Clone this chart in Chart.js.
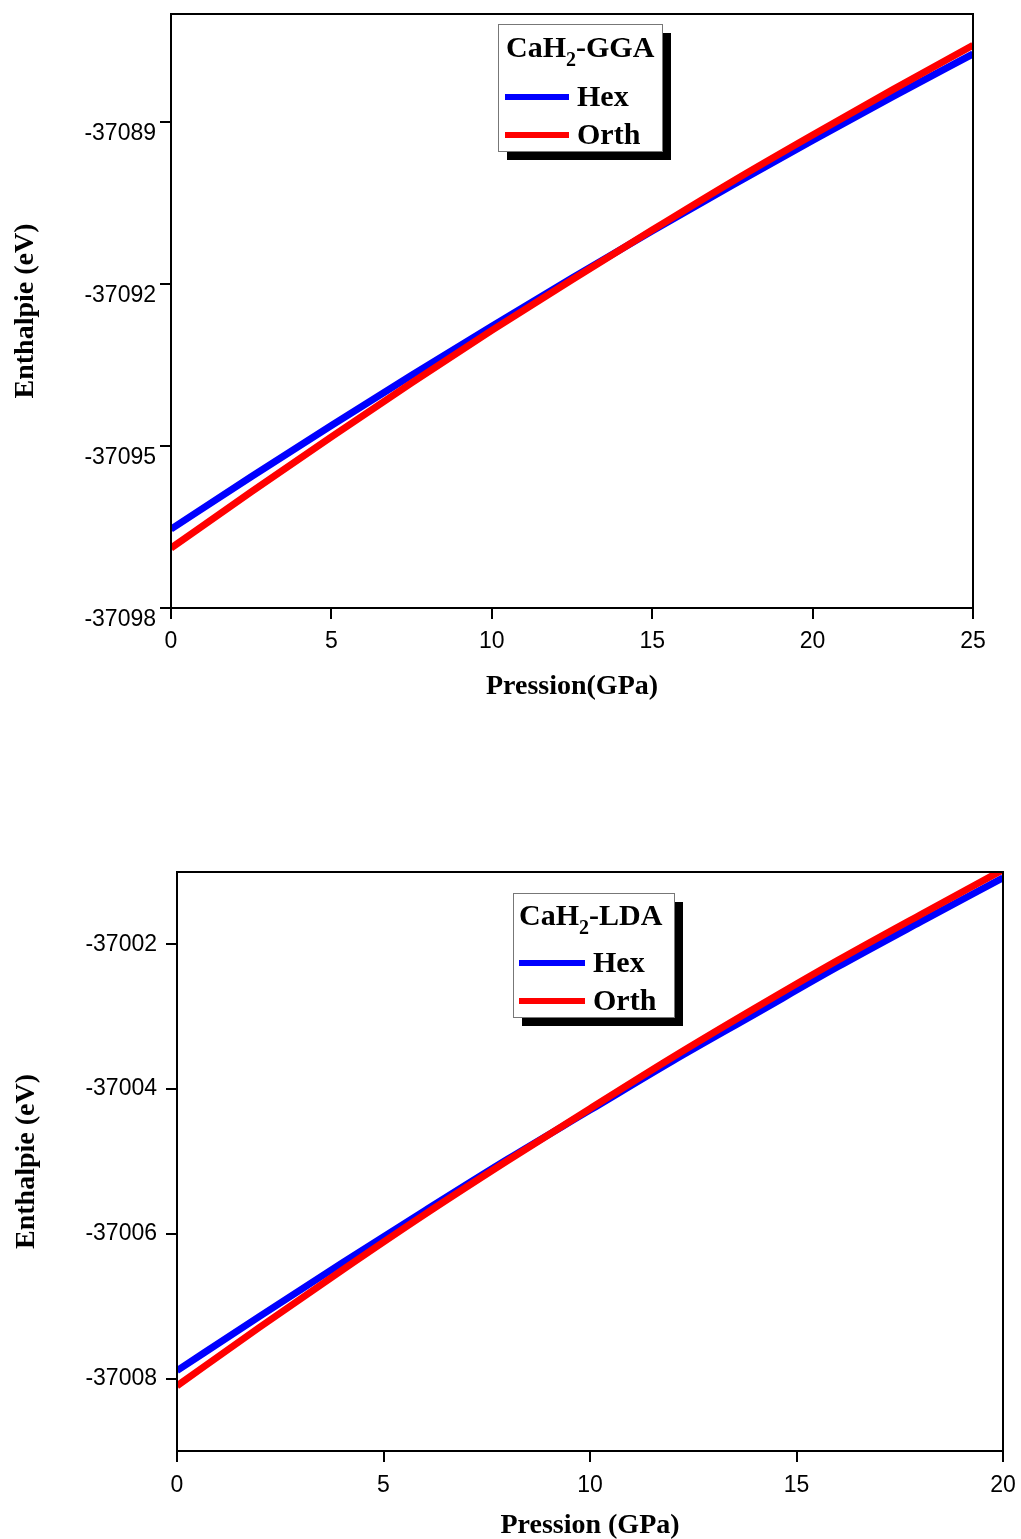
<!DOCTYPE html>
<html><head><meta charset="utf-8">
<script src="https://cdn.jsdelivr.net/npm/chart.js@4.4.1/dist/chart.umd.min.js"></script>
<style>
html,body{margin:0;padding:0;background:#fff;}
body{width:1021px;height:1539px;position:relative;overflow:hidden;}
.box{position:absolute;left:0;}
canvas{display:block;}
</style></head><body>
<div class="box" style="top:0;width:1021px;height:710px"><canvas id="c1" width="1021" height="710"></canvas></div>
<div class="box" style="top:850px;width:1021px;height:689px"><canvas id="c2" width="1021" height="689"></canvas></div>
<script>
// ---- data ----
const pressureGGA = [0, 2.5, 5, 7.5, 10, 12.5, 15, 17.5, 20, 22.5, 25];
const hexGGA  = [-37096.54, -37095.57, -37094.62, -37093.69, -37092.78, -37091.89, -37091.02, -37090.17, -37089.34, -37088.53, -37087.74];
const orthGGA = [-37096.89, -37095.85, -37094.83, -37093.83, -37092.86, -37091.92, -37091.00, -37090.10, -37089.24, -37088.40, -37087.58];

const pressureLDA = [0, 2, 4, 6, 8, 10, 12, 14, 16, 18, 20];
const hexLDA  = [-37007.89, -37007.14, -37006.40, -37005.68, -37004.97, -37004.29, -37003.61, -37002.96, -37002.31, -37001.69, -37001.08];
const orthLDA = [-37008.10, -37007.29, -37006.50, -37005.73, -37004.99, -37004.27, -37003.56, -37002.88, -37002.22, -37001.59, -37000.97];

const xTicksGGA = [0, 5, 10, 15, 20, 25];
const yTicksGGA = [-37098, -37095, -37092, -37089];
const xTicksLDA = [0, 5, 10, 15, 20];
const yTicksLDA = [-37008, -37006, -37004, -37002];

const seriesNames = ['Hex', 'Orth'];
const seriesColors = ['#0000ff', '#ff0000'];
const legendTitleGGA = ['CaH', '2', '-GGA'];
const legendTitleLDA = ['CaH', '2', '-LDA'];
const yTitle = 'Enthalpie (eV)';
const xTitleGGA = 'Pression(GPa)';
const xTitleLDA = 'Pression (GPa)';

// ---- helpers ----
const SERIF = "'Liberation Serif','Times New Roman',serif";
const SANS = "'Liberation Sans',Arial,sans-serif";

const framePlugin = {
  id: 'frame',
  afterDatasetsDraw(chart) {
    const {ctx, chartArea: a} = chart;
    ctx.save();
    ctx.strokeStyle = '#000';
    ctx.lineWidth = 2;
    ctx.strokeRect(a.left, a.top, a.right - a.left, a.bottom - a.top);
    ctx.restore();
  }
};

const boxLegendPlugin = {
  id: 'boxLegend',
  afterDraw(chart, args, o) {
    const ctx = chart.ctx;
    ctx.save();
    ctx.fillStyle = '#000';
    ctx.fillRect(o.x + o.shadow, o.y + o.shadow, o.w, o.h);
    ctx.fillStyle = '#fff';
    ctx.fillRect(o.x, o.y, o.w, o.h);
    ctx.strokeStyle = '#777';
    ctx.lineWidth = 1;
    ctx.strokeRect(o.x + 0.5, o.y + 0.5, o.w, o.h);
    ctx.fillStyle = '#000';
    ctx.textBaseline = 'alphabetic';
    ctx.textAlign = 'left';
    ctx.font = 'bold 30px ' + SERIF;
    let tx = o.x + o.titleDx;
    const ty = o.y + o.titleDy;
    ctx.fillText(o.title[0], tx, ty);
    tx += ctx.measureText(o.title[0]).width;
    ctx.font = 'bold 20px ' + SERIF;
    ctx.fillText(o.title[1], tx, ty + 9);
    tx += ctx.measureText(o.title[1]).width;
    ctx.font = 'bold 30px ' + SERIF;
    ctx.fillText(o.title[2], tx, ty);
    chart.data.datasets.forEach((ds, i) => {
      const ly = o.y + o.rowDy[i];
      ctx.strokeStyle = ds.borderColor;
      ctx.lineWidth = 6;
      ctx.beginPath();
      ctx.moveTo(o.x + o.lineX0, ly);
      ctx.lineTo(o.x + o.lineX1, ly);
      ctx.stroke();
      ctx.fillStyle = '#000';
      ctx.font = 'bold 30px ' + SERIF;
      ctx.fillText(ds.label, o.x + o.textDx, ly + 9);
    });
    ctx.restore();
  }
};

function makeChart(id, p) {
  const datasets = [p.hex, p.orth].map((vals, i) => ({
    label: seriesNames[i],
    data: p.x.map((xv, j) => ({x: xv, y: vals[j]})),
    borderColor: seriesColors[i],
    backgroundColor: seriesColors[i],
    borderWidth: 7,
    pointRadius: 0,
    cubicInterpolationMode: 'monotone',
    fill: false,
    clip: 0,
    order: i === 0 ? 1 : 0
  }));
  return new Chart(document.getElementById(id), {
    type: 'line',
    data: {datasets},
    options: {
      responsive: false,
      animation: false,
      devicePixelRatio: 1,
      layout: {padding: p.padding},
      plugins: {
        legend: {display: false},
        tooltip: {enabled: false},
        boxLegend: p.legend
      },
      scales: {
        x: {
          type: 'linear',
          min: p.xTicks[0],
          max: p.xTicks[p.xTicks.length - 1],
          afterBuildTicks: s => { s.ticks = p.xTicks.map(v => ({value: v})); },
          afterFit: s => { s.height = p.xAxisH; s.paddingLeft = 0; s.paddingRight = 0; },
          grid: {display: true, drawOnChartArea: false, drawTicks: true, tickLength: 11, color: '#000', lineWidth: 2},
          border: {display: true, color: '#000', width: 2},
          ticks: {color: '#000', font: {family: SANS, size: 23}, padding: p.xTickPad, maxRotation: 0, autoSkip: false},
          title: {display: true, text: p.xTitle, color: '#000', font: {family: SERIF, size: 28, weight: 'bold', lineHeight: 1.2}, padding: {top: 0, bottom: p.xTitlePad}}
        },
        y: {
          type: 'linear',
          min: p.yMin,
          max: p.yMax,
          afterBuildTicks: s => { s.ticks = p.yTicks.map(v => ({value: v})); },
          afterFit: s => { s.width = p.yAxisW; s.paddingTop = 0; s.paddingBottom = 0; },
          grid: {display: true, drawOnChartArea: false, drawTicks: true, tickLength: 11, color: '#000', lineWidth: 2},
          border: {display: true, color: '#000', width: 2},
          ticks: {color: '#000', font: {family: SANS, size: 23}, padding: p.yTickPad, labelOffset: p.yLabelOffset, autoSkip: false,
                  callback: v => String(v)},
          title: {display: true, text: yTitle, color: '#000', font: {family: SERIF, size: 28, weight: 'bold', lineHeight: 1.2}, padding: {top: p.yTitlePad, bottom: 0}}
        }
      }
    },
    plugins: [framePlugin, boxLegendPlugin]
  });
}

makeChart('c1', {
  x: pressureGGA, hex: hexGGA, orth: orthGGA,
  xTicks: xTicksGGA, yTicks: yTicksGGA, yMin: -37098, yMax: -37087,
  padding: {left: 0, top: 14, right: 48, bottom: 0},
  yAxisW: 171, xAxisH: 102, xTickPad: 9, yTickPad: 4, yLabelOffset: 12,
  xTitle: xTitleGGA, xTitlePad: 6, yTitlePad: 9,
  legend: {x: 498, y: 24, w: 164, h: 127, shadow: 9, title: legendTitleGGA, titleDx: 8, titleDy: 33,
           rowDy: [73, 111], lineX0: 7, lineX1: 71, textDx: 79}
});

makeChart('c2', {
  x: pressureLDA, hex: hexLDA, orth: orthLDA,
  xTicks: xTicksLDA, yTicks: yTicksLDA, yMin: -37009, yMax: -37001,
  padding: {left: 0, top: 22, right: 18, bottom: 0},
  yAxisW: 177, xAxisH: 88, xTickPad: 10, yTickPad: 9, yLabelOffset: 0,
  xTitle: xTitleLDA, xTitlePad: -4, yTitlePad: 10,
  legend: {x: 513, y: 43, w: 161, h: 124, shadow: 9, title: legendTitleLDA, titleDx: 6, titleDy: 32,
           rowDy: [70, 108], lineX0: 6, lineX1: 72, textDx: 80}
});
</script>
</body></html>
